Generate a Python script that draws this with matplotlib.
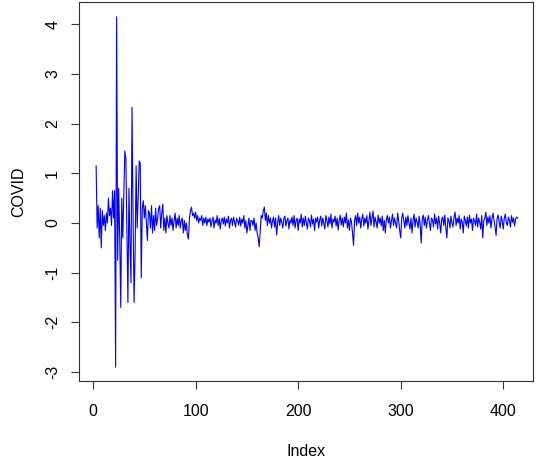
import numpy as np
import matplotlib
matplotlib.use('Agg')
import matplotlib.pyplot as plt

# first observation sits at index 3
start_index = 3

# early, volatile part of the series (index 3..54)
early_values = [
    1.15, -0.1, 0.35, -0.3, 0.3, -0.5, 0.25, -0.05, 0.15, -0.15,
    0.2, 0.0, 0.5, 0.15, 0.3, -0.05, 0.65, 0.1, 0.65, -2.9,
    4.15, -0.75, 0.7, -0.3, -1.7, 0.5, -0.3, 0.6, 1.45, 1.3,
    -0.2, -1.6, 0.7, -0.4, -1.2, 2.33, 0.2, -1.6, -0.6, 1.15,
    -0.1, 0.5, 1.25, 1.2, -1.1, 0.3, 0.45, 0.1, 0.35, 0.0,
    -0.35, 0.25,
]

# calmer part (index 55..414)
late_values = [
    0.2, -0.1, 0.35, -0.2, 0.15, -0.15, 0.3, -0.05, 0.1, 0.3,
    0.35, -0.1, 0.2, 0.38, -0.15, 0.1, -0.2, 0.15, 0.0, -0.1,
    0.15, -0.05, 0.1, -0.15, 0.05, 0.2, -0.1, 0.1, -0.05, 0.15,
    -0.1, 0.05, 0.1, -0.2, 0.05, -0.15, 0.0, -0.25, -0.32, 0.1,
    0.25, 0.32, 0.15, 0.2, 0.1, 0.22, 0.05, 0.15, 0.0, 0.1,
    0.05, 0.15, -0.05, 0.1, 0.0, 0.12, -0.05, 0.08, 0.02, 0.1,
    -0.08, 0.05, 0.12, -0.1, 0.06, 0.0, 0.15, -0.05, 0.1, -0.12,
    0.05, 0.1, -0.02, 0.12, -0.06, 0.08, 0.0, 0.14, -0.1, 0.05,
    0.1, -0.05, 0.12, 0.02, -0.08, 0.1, 0.05, -0.04, 0.12, -0.06,
    0.08, 0.0, 0.15, -0.1, 0.05, -0.2, -0.05, 0.1, -0.15, 0.05,
    0.05, -0.05, 0.1, -0.15, 0.0, -0.2, -0.3, -0.48, -0.15, 0.15,
    0.1, 0.25, 0.32, 0.05, 0.2, -0.05, 0.15, 0.0, 0.1, -0.1,
    0.05, 0.12, -0.08, 0.1, -0.24, 0.0, 0.15, -0.05, 0.1, 0.02,
    -0.1, 0.08, 0.14, -0.06, 0.05, 0.1, -0.12, 0.06, 0.0, 0.12,
    -0.05, 0.15, -0.1, 0.05, 0.1, -0.15, 0.08, 0.0, 0.18, -0.08,
    0.1, -0.05, 0.14, 0.0, -0.12, 0.1, 0.05, -0.08, 0.16, -0.02,
    0.08, -0.15, 0.1, 0.02, 0.12, -0.1, 0.06, 0.14, -0.06, 0.1,
    0.0, -0.12, 0.15, 0.05, -0.08, 0.12, -0.02, 0.18, -0.1, 0.08,
    0.02, 0.14, -0.06, 0.1, -0.14, 0.05, 0.16, -0.04, 0.1, -0.08,
    0.12, 0.0, 0.2, -0.1, 0.06, -0.15, 0.1, 0.02, -0.2, -0.45,
    0.05, 0.15, -0.05, 0.2, 0.0, 0.12, -0.1, 0.08, 0.18, -0.06,
    0.1, 0.0, 0.15, -0.12, 0.05, 0.22, -0.05, 0.1, 0.24, -0.08,
    0.12, 0.02, -0.1, 0.16, 0.0, 0.1, -0.06, 0.14, -0.15, 0.05,
    -0.2, 0.08, 0.15, 0.0, 0.12, -0.1, 0.05, 0.18, -0.05, 0.1,
    0.0, -0.1, 0.2, 0.05, -0.15, -0.3, 0.1, 0.2, 0.05, -0.1,
    0.12, -0.05, 0.15, 0.0, -0.12, 0.1, -0.2, 0.05, 0.18, -0.08,
    0.1, 0.02, -0.1, 0.14, -0.05, -0.4, 0.1, 0.16, -0.05, 0.12,
    -0.1, 0.05, 0.15, 0.0, -0.15, 0.1, 0.06, -0.08, 0.18, -0.02,
    0.1, -0.12, 0.14, 0.0, -0.2, 0.08, 0.12, -0.05, 0.16, -0.1,
    -0.3, 0.1, 0.05, -0.1, 0.14, 0.0, -0.08, 0.12, 0.22, -0.05,
    0.1, 0.0, 0.15, -0.12, 0.08, 0.02, -0.2, 0.14, 0.05, -0.06,
    0.12, -0.1, 0.16, 0.0, 0.08, -0.15, 0.1, 0.04, -0.05, 0.18,
    -0.08, 0.1, 0.02, -0.12, 0.15, -0.3, 0.05, 0.1, 0.22, -0.05,
    0.12, 0.0, 0.15, -0.1, 0.08, 0.2, 0.05, -0.08, -0.25, 0.1,
    0.16, 0.02, -0.1, 0.14, 0.05, -0.12, 0.1, 0.18, 0.0, -0.05,
    0.12, 0.05, -0.08, 0.15, 0.02, 0.1, -0.06, 0.08, 0.12, 0.1,
]

x_ticks = [0, 100, 200, 300, 400]
y_ticks = [-3, -2, -1, 0, 1, 2, 3, 4]

covid = np.array(early_values + late_values)
index = np.arange(start_index, start_index + len(covid))

plt.rcParams['font.family'] = ['Liberation Sans', 'DejaVu Sans']

fig = plt.figure(figsize=(5.36, 4.61), dpi=100)
ax = fig.add_axes([79 / 536, 1 - 381 / 461, 454 / 536, 379 / 461])

# R-style line plot
ax.plot(index, covid, color='#0000ff', linewidth=0.8)

ax.set_xlim(-13.7, 429)
ax.set_ylim(-3.18, 4.45)
ax.set_xticks(x_ticks)
ax.set_yticks(y_ticks)
ax.set_yticklabels([str(v) for v in y_ticks], rotation=90, va='center')

ax.tick_params(direction='out', length=5.5, width=0.8, labelsize=11.5,
               color='#333333', labelcolor='black')
ax.tick_params(axis='x', pad=11)
ax.tick_params(axis='y', pad=8)
for spine in ax.spines.values():
    spine.set_linewidth(0.8)
    spine.set_color('#333333')

ax.set_xlabel('Index', fontsize=11.5, labelpad=18)
ax.set_ylabel('COVID', fontsize=11.5, labelpad=14)

fig.savefig('out.png', dpi=100)
